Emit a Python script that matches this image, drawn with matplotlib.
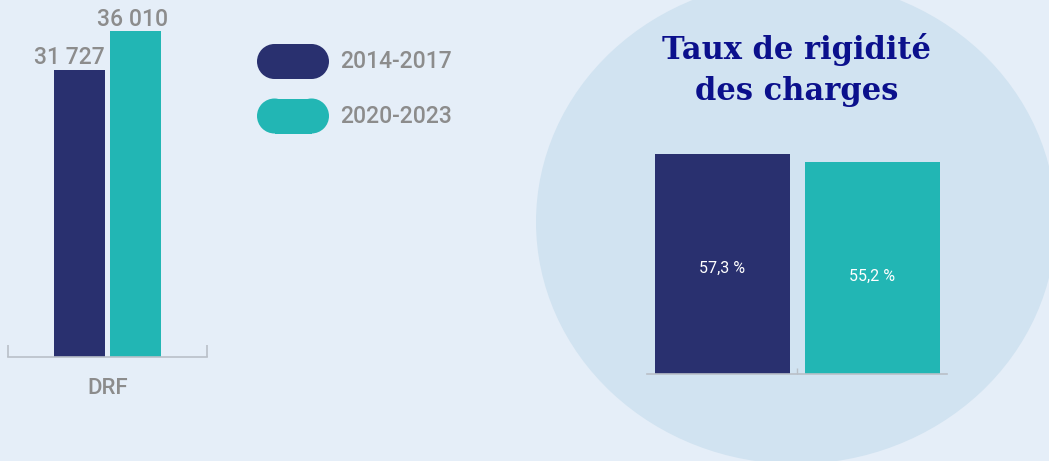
import matplotlib.pyplot as plt
from matplotlib.patches import Ellipse, Rectangle

# DRF amounts per period
periods = ["2014-2017", "2020-2023"]
drf_values = [31727, 36010]
drf_labels = ["31 727", "36 010"]
drf_category = "DRF"

# taux de rigidité des charges (%)
rigidite_values = [57.3, 55.2]
rigidite_labels = ["57,3 %", "55,2 %"]

colors = ["#29306f", "#22b6b4"]
bg_color = "#e5eef8"
disc_color = "#d1e3f1"
grey = "#8c8c8c"
axis_grey = "#b9c0c8"
title_color = "#0b108c"

W, H = 1049, 461
fig = plt.figure(figsize=(W / 100, H / 100), dpi=100)
fig.patch.set_facecolor(bg_color)


def px_axes(x0, y0, x1, y1):
    # axes placed with pixel box (top-left origin)
    return fig.add_axes([x0 / W, 1 - y1 / H, (x1 - x0) / W, (y1 - y0) / H])


# background layer in pixel coordinates
bg = fig.add_axes([0, 0, 1, 1])
bg.set_xlim(0, W)
bg.set_ylim(H, 0)
bg.axis("off")
bg.add_patch(Ellipse((796, 222), 520, 484, color=disc_color, lw=0))

# legend pills
r = 17.5
for i, (lab, c) in enumerate(zip(periods, colors)):
    yc = 61.5 + i * 54.5
    bg.add_patch(Rectangle((257 + r, yc - r), 72 - 2 * r, 2 * r, fc=c, ec="none"))
    bg.add_patch(Ellipse((257 + r, yc), 2 * r, 2 * r, fc=c, ec="none"))
    bg.add_patch(Ellipse((329 - r, yc), 2 * r, 2 * r, fc=c, ec="none"))
    bg.text(340, yc, lab, color=grey, fontsize=16.5, family="Roboto",
            fontweight="medium", va="center", ha="left")

for line, yb in zip(["Taux de rigidité", "des charges"], [59, 100]):
    bg.text(796.5, yb, line, color=title_color, fontsize=22,
            family="DejaVu Serif", fontweight="bold", ha="center",
            va="baseline")

# left chart: DRF
ax1 = px_axes(8, 357 - 343.7, 207, 357)
ax1.set_facecolor("none")
offsets = [-0.142, 0.142]
label_shift = [-7, -2]
for v, lab, c, off, sh in zip(drf_values, drf_labels, colors, offsets, label_shift):
    ax1.bar(off, v, width=0.255, color=c, zorder=2)
    ax1.annotate(lab, (off, v), xytext=(sh, 4), textcoords="offset points",
                 ha="center", va="baseline", color=grey, fontsize=16.5,
                 family="Roboto", fontweight="medium", annotation_clip=False)
ax1.set_xlim(-0.5, 0.5)
ax1.set_ylim(0, 38000)
ax1.set_xticks([0])
ax1.set_xticklabels([drf_category], color=grey, fontsize=16, family="Roboto",
                    fontweight="medium")
ax1.tick_params(axis="x", which="major", length=0, pad=15)
ax1.set_xticks([-0.5, 0.5], minor=True)
ax1.tick_params(axis="x", which="minor", length=9, direction="in",
                color=axis_grey, width=1.2)
ax1.set_yticks([])
for s in ["top", "right", "left"]:
    ax1.spines[s].set_visible(False)
ax1.spines["bottom"].set_color(axis_grey)
ax1.spines["bottom"].set_linewidth(1.2)

# right chart: rigidité
ax2 = px_axes(647, 374 - 230.4, 947, 374)
ax2.set_facecolor("none")
for i, (v, lab, c) in enumerate(zip(rigidite_values, rigidite_labels, colors)):
    ax2.bar(i, v, width=0.9, color=c, zorder=2)
    ax2.annotate(lab, (i, v), xytext=(0, -82), textcoords="offset points",
                 ha="center", va="center", color="white", fontsize=11.5,
                 family="Roboto")
ax2.set_xlim(-0.5, 1.5)
ax2.set_ylim(0, 60)
ax2.set_xticks([])
ax2.set_xticks([0.5], minor=True)
ax2.tick_params(axis="x", which="minor", length=4, direction="in",
                color=axis_grey, width=1)
ax2.set_yticks([])
for s in ["top", "right", "left"]:
    ax2.spines[s].set_visible(False)
ax2.spines["bottom"].set_color(axis_grey)
ax2.spines["bottom"].set_linewidth(1.2)

fig.savefig("out.png", dpi=100, facecolor=bg_color)
